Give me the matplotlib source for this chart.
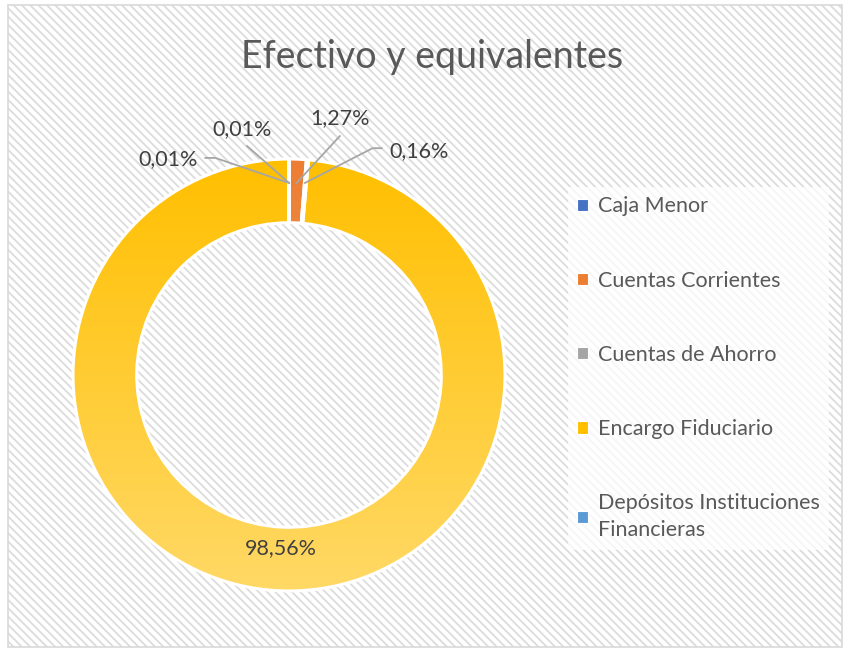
import numpy as np
import matplotlib.pyplot as plt
from matplotlib.patches import Rectangle, Patch
from matplotlib.colors import to_rgb

# Datos
categorias = ["Caja Menor", "Cuentas Corrientes", "Cuentas de Ahorro",
              "Encargo Fiduciario", "Depósitos Instituciones\nFinancieras"]
porcentajes = [0.01, 1.27, 0.16, 98.56, 0.01]
etiquetas = ["0,01%", "1,27%", "0,16%", "98,56%", "0,01%"]

colores = ["#4472C4", "#ED7D31", "#A5A5A5", "#FFC000", "#5B9BD5"]
# gradiente (arriba, abajo) para los sectores visibles
gradientes = {1: ("#ED7D31", "#F4B183"), 3: ("#FFBF00", "#FFD966")}

gris_texto = "#595959"
plt.rcParams["font.family"] = ["Lato", "DejaVu Sans"]
plt.rcParams["hatch.linewidth"] = 1.3

fig = plt.figure(figsize=(8.44, 6.5), dpi=100)

# fondo rayado y borde
bg = fig.add_axes([0, 0, 1, 1])
bg.set_xlim(0, 844)
bg.set_ylim(650, 0)
bg.axis("off")
bg.add_patch(Rectangle((8, 5), 834, 642, facecolor="white", edgecolor="#DCDCDC",
                       linewidth=0, hatch="\\\\\\\\"))
bg.add_patch(Rectangle((8, 5), 834, 642, facecolor="none", edgecolor="#D9D9D9",
                       linewidth=1.2))

fig.text(0.512, 0.912, "Efectivo y equivalentes", ha="center", va="center",
         fontsize=27, color=gris_texto)

# dona
cx, cy, r = 289, 375, 216
ax = fig.add_axes([(cx - r) / 844, (650 - cy - r) / 650, 2 * r / 844, 2 * r / 650])
wedges, _ = ax.pie(porcentajes, colors=colores, startangle=90, counterclock=False,
                   radius=1, wedgeprops=dict(width=0.295, edgecolor="white", linewidth=2.2))
ax.set_xlim(-1, 1)
ax.set_ylim(-1, 1)
ax.axis("off")

for i, (c_top, c_bot) in gradientes.items():
    w = wedges[i]
    top = np.array(to_rgb(c_top))
    bot = np.array(to_rgb(c_bot))
    t = np.linspace(0, 1, 256)[:, None, None]
    img = top * (1 - t) + bot * t
    im = ax.imshow(img, extent=(-1, 1, -1, 1), origin="upper", aspect="auto", zorder=0.5)
    im.set_clip_path(w)
    w.set_facecolor("none")
    w.set_zorder(1)

# etiquetas
pos_texto = {0: (-0.217, 1.138), 1: (0.235, 1.189), 2: (0.604, 1.037), 4: (-0.562, 1.0)}
codo = {0: [(-0.194, 1.06)], 1: [(0.235, 1.106)], 2: [(0.387, 1.05), (0.429, 1.05)],
        4: [(-0.341, 1.005), (-0.387, 1.005)]}
acum = np.cumsum([0] + porcentajes[:-1])
for i, (p, txt) in enumerate(zip(porcentajes, etiquetas)):
    ang = np.deg2rad(90 - (acum[i] + p / 2) * 3.6)
    if i == 3:
        ax.text(0.80 * np.cos(ang), 0.80 * np.sin(ang), txt, ha="center", va="center",
                fontsize=15.5, color="#404040", zorder=3)
        continue
    x0, y0 = 0.86 * np.cos(ang), 0.889
    pts = [(x0, y0)] + codo[i]
    xs, ys = zip(*pts)
    ax.plot(xs, ys, color="#A6A6A6", linewidth=1.3, zorder=3, clip_on=False)
    tx, ty = pos_texto[i]
    ax.text(tx, ty, txt, ha="center", va="center", fontsize=15.5, color="#404040",
            zorder=3, clip_on=False)

# leyenda
handles = [Patch(facecolor=c, edgecolor="white", linewidth=0.8) for c in colores]
leg = fig.legend(handles, categorias, loc="upper left", bbox_to_anchor=(557 / 844, 1 - 176 / 650),
                 frameon=True, fontsize=15.5, labelcolor=gris_texto, handlelength=0.5,
                 handleheight=0.5, handletextpad=0.45, labelspacing=2.52,
                 borderpad=0.45, fancybox=False)
for t in leg.get_texts():
    t.set_multialignment("left")
    t.set_linespacing(1.4)
leg.get_frame().set_facecolor("white")
leg.get_frame().set_alpha(0.75)
leg.get_frame().set_edgecolor("none")

fig.savefig("out.png", dpi=100)
